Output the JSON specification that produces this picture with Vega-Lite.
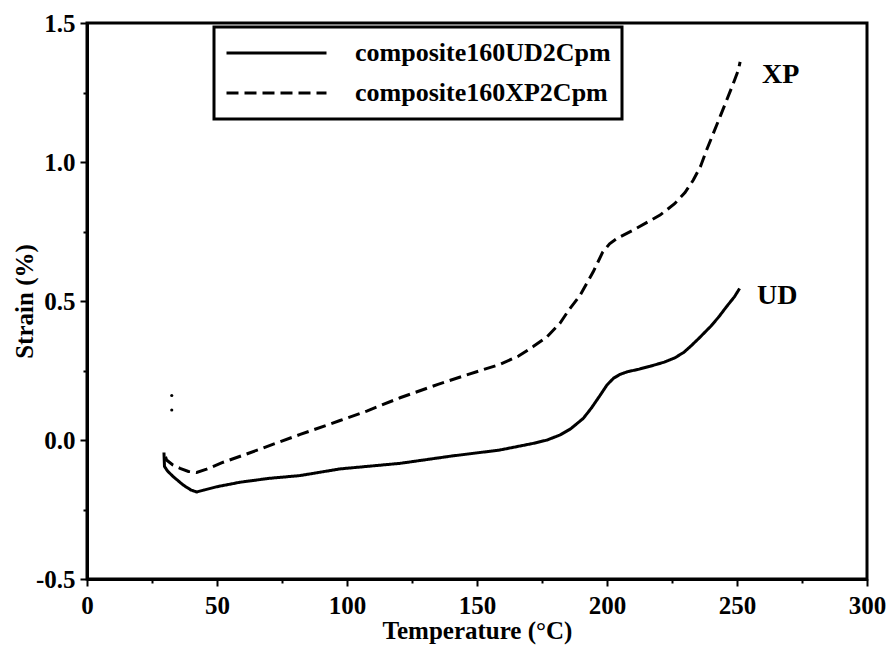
{
  "$schema": "https://vega.github.io/schema/vega-lite/v6.json",
  "width": 780,
  "height": 556,
  "autosize": "none",
  "padding": {"left": 87, "top": 23, "right": 27, "bottom": 75},
  "background": "white",
  "datasets": {
    "curves": [
      {"series": "composite160UD2Cpm", "temperature": 29.6, "strain": -0.045},
      {"series": "composite160UD2Cpm", "temperature": 29.8, "strain": -0.095},
      {"series": "composite160UD2Cpm", "temperature": 31, "strain": -0.112},
      {"series": "composite160UD2Cpm", "temperature": 33.2, "strain": -0.132},
      {"series": "composite160UD2Cpm", "temperature": 37, "strain": -0.162},
      {"series": "composite160UD2Cpm", "temperature": 40, "strain": -0.18},
      {"series": "composite160UD2Cpm", "temperature": 42.2, "strain": -0.187},
      {"series": "composite160UD2Cpm", "temperature": 45, "strain": -0.18},
      {"series": "composite160UD2Cpm", "temperature": 50, "strain": -0.168},
      {"series": "composite160UD2Cpm", "temperature": 58.8, "strain": -0.152},
      {"series": "composite160UD2Cpm", "temperature": 70, "strain": -0.138},
      {"series": "composite160UD2Cpm", "temperature": 81.9, "strain": -0.128},
      {"series": "composite160UD2Cpm", "temperature": 97.3, "strain": -0.104},
      {"series": "composite160UD2Cpm", "temperature": 120.4, "strain": -0.084},
      {"series": "composite160UD2Cpm", "temperature": 140, "strain": -0.058},
      {"series": "composite160UD2Cpm", "temperature": 158.8, "strain": -0.036},
      {"series": "composite160UD2Cpm", "temperature": 171.7, "strain": -0.012},
      {"series": "composite160UD2Cpm", "temperature": 177, "strain": 0.0},
      {"series": "composite160UD2Cpm", "temperature": 181.9, "strain": 0.018},
      {"series": "composite160UD2Cpm", "temperature": 186, "strain": 0.04},
      {"series": "composite160UD2Cpm", "temperature": 190.9, "strain": 0.078},
      {"series": "composite160UD2Cpm", "temperature": 194, "strain": 0.115},
      {"series": "composite160UD2Cpm", "temperature": 197.3, "strain": 0.16},
      {"series": "composite160UD2Cpm", "temperature": 200, "strain": 0.198},
      {"series": "composite160UD2Cpm", "temperature": 202.5, "strain": 0.222},
      {"series": "composite160UD2Cpm", "temperature": 205, "strain": 0.236},
      {"series": "composite160UD2Cpm", "temperature": 208, "strain": 0.246},
      {"series": "composite160UD2Cpm", "temperature": 212, "strain": 0.254},
      {"series": "composite160UD2Cpm", "temperature": 216.5, "strain": 0.265},
      {"series": "composite160UD2Cpm", "temperature": 222, "strain": 0.28},
      {"series": "composite160UD2Cpm", "temperature": 226, "strain": 0.295},
      {"series": "composite160UD2Cpm", "temperature": 229.5, "strain": 0.315},
      {"series": "composite160UD2Cpm", "temperature": 232.5, "strain": 0.34},
      {"series": "composite160UD2Cpm", "temperature": 235.8, "strain": 0.37},
      {"series": "composite160UD2Cpm", "temperature": 240, "strain": 0.41},
      {"series": "composite160UD2Cpm", "temperature": 243, "strain": 0.443},
      {"series": "composite160UD2Cpm", "temperature": 246, "strain": 0.48},
      {"series": "composite160UD2Cpm", "temperature": 249, "strain": 0.515},
      {"series": "composite160UD2Cpm", "temperature": 251, "strain": 0.545},
      {"series": "composite160XP2Cpm", "temperature": 30.2, "strain": -0.06},
      {"series": "composite160XP2Cpm", "temperature": 30.6, "strain": -0.072},
      {"series": "composite160XP2Cpm", "temperature": 33, "strain": -0.09},
      {"series": "composite160XP2Cpm", "temperature": 35.8, "strain": -0.102},
      {"series": "composite160XP2Cpm", "temperature": 39, "strain": -0.113},
      {"series": "composite160XP2Cpm", "temperature": 42.2, "strain": -0.117},
      {"series": "composite160XP2Cpm", "temperature": 46, "strain": -0.105},
      {"series": "composite160XP2Cpm", "temperature": 52.4, "strain": -0.08},
      {"series": "composite160XP2Cpm", "temperature": 60, "strain": -0.055},
      {"series": "composite160XP2Cpm", "temperature": 71.7, "strain": -0.015},
      {"series": "composite160XP2Cpm", "temperature": 82, "strain": 0.02},
      {"series": "composite160XP2Cpm", "temperature": 97.3, "strain": 0.07},
      {"series": "composite160XP2Cpm", "temperature": 107.6, "strain": 0.104},
      {"series": "composite160XP2Cpm", "temperature": 120.4, "strain": 0.152},
      {"series": "composite160XP2Cpm", "temperature": 135, "strain": 0.2},
      {"series": "composite160XP2Cpm", "temperature": 146, "strain": 0.234},
      {"series": "composite160XP2Cpm", "temperature": 158.8, "strain": 0.272},
      {"series": "composite160XP2Cpm", "temperature": 166, "strain": 0.302},
      {"series": "composite160XP2Cpm", "temperature": 171.6, "strain": 0.336},
      {"series": "composite160XP2Cpm", "temperature": 176.8, "strain": 0.37},
      {"series": "composite160XP2Cpm", "temperature": 181.9, "strain": 0.42},
      {"series": "composite160XP2Cpm", "temperature": 185.5, "strain": 0.47},
      {"series": "composite160XP2Cpm", "temperature": 189.6, "strain": 0.52},
      {"series": "composite160XP2Cpm", "temperature": 194.7, "strain": 0.605},
      {"series": "composite160XP2Cpm", "temperature": 198.3, "strain": 0.675},
      {"series": "composite160XP2Cpm", "temperature": 201, "strain": 0.706},
      {"series": "composite160XP2Cpm", "temperature": 204, "strain": 0.726},
      {"series": "composite160XP2Cpm", "temperature": 210.1, "strain": 0.755},
      {"series": "composite160XP2Cpm", "temperature": 220.4, "strain": 0.809},
      {"series": "composite160XP2Cpm", "temperature": 226, "strain": 0.85},
      {"series": "composite160XP2Cpm", "temperature": 230, "strain": 0.89},
      {"series": "composite160XP2Cpm", "temperature": 233.2, "strain": 0.935},
      {"series": "composite160XP2Cpm", "temperature": 236, "strain": 0.985},
      {"series": "composite160XP2Cpm", "temperature": 238.3, "strain": 1.043},
      {"series": "composite160XP2Cpm", "temperature": 243.5, "strain": 1.163},
      {"series": "composite160XP2Cpm", "temperature": 248.6, "strain": 1.283},
      {"series": "composite160XP2Cpm", "temperature": 250.5, "strain": 1.33},
      {"series": "composite160XP2Cpm", "temperature": 251.2, "strain": 1.36}
    ],
    "dots": [
      {"temperature": 32.6, "strain": 0.16},
      {"temperature": 32.6, "strain": 0.108}
    ],
    "labels": [
      {"temperature": 259.6, "strain": 1.313, "text": "XP"},
      {"temperature": 257.7, "strain": 0.518, "text": "UD"}
    ]
  },
  "layer": [
    {
      "data": {"name": "curves"},
      "mark": {"type": "line", "strokeWidth": 3, "color": "black"},
      "encoding": {
        "x": {
          "field": "temperature",
          "type": "quantitative",
          "scale": {"domain": [0, 300], "nice": false, "zero": false},
          "axis": {
            "title": "Temperature (°C)",
            "values": [0, 12.5, 25, 37.5, 50, 62.5, 75, 87.5, 100, 112.5, 125, 137.5, 150, 162.5, 175, 187.5, 200, 212.5, 225, 237.5, 250, 262.5, 275, 287.5, 300],
            "labelExpr": "datum.value % 50 === 0 ? datum.label : ''",
            "format": "d",
            "labelFlush": false,
            "labelOverlap": false,
            "tickSize": {"condition": {"test": "datum.value % 50 === 0", "value": 7}, "value": 4},
            "labelPadding": 7,
            "titlePadding": 0
          }
        },
        "y": {
          "field": "strain",
          "type": "quantitative",
          "scale": {"domain": [-0.5, 1.5], "nice": false, "zero": false},
          "axis": {
            "title": "Strain (%)",
            "values": [-0.5, -0.375, -0.25, -0.125, 0, 0.125, 0.25, 0.375, 0.5, 0.625, 0.75, 0.875, 1.0, 1.125, 1.25, 1.375, 1.5],
            "format": ".1f",
            "labelFlush": false,
            "labelOverlap": false,
            "labelExpr": "abs(datum.value*2 - round(datum.value*2)) < 0.000001 ? replace(datum.label, '−', '-') : ''",
            "tickSize": {"condition": {"test": "abs(datum.value*2 - round(datum.value*2)) < 0.000001", "value": 7}, "value": 4},
            "labelPadding": 5,
            "titlePadding": -2
          }
        },
        "strokeDash": {
          "field": "series",
          "type": "nominal",
          "scale": {"domain": ["composite160UD2Cpm", "composite160XP2Cpm"], "range": [[1, 0], [12, 6]]},
          "legend": {
            "title": null,
            "orient": "none",
            "legendX": 127,
            "legendY": 4,
            "symbolType": "stroke",
            "symbolSize": 10000,
            "symbolStrokeWidth": 3,
            "symbolStrokeColor": "black",
            "clipHeight": 30,
            "rowPadding": 10,
            "labelOffset": 27,
            "padding": 11,
            "strokeColor": "black",
            "labelFont": "Liberation Serif",
            "labelFontWeight": "bold",
            "labelFontSize": 26,
            "labelColor": "black",
            "labelLimit": 400
          }
        }
      }
    },
    {
      "data": {"name": "dots"},
      "mark": {"type": "point", "filled": true, "color": "black", "size": 10, "opacity": 1},
      "encoding": {
        "x": {"field": "temperature", "type": "quantitative"},
        "y": {"field": "strain", "type": "quantitative"}
      }
    },
    {
      "data": {"name": "labels"},
      "mark": {"type": "text", "font": "Liberation Serif", "fontWeight": "bold", "fontSize": 28, "align": "left", "baseline": "middle", "color": "black"},
      "encoding": {
        "x": {"field": "temperature", "type": "quantitative"},
        "y": {"field": "strain", "type": "quantitative"},
        "text": {"field": "text"}
      }
    }
  ],
  "config": {
    "view": {"stroke": "black", "strokeWidth": 3},
    "axis": {
      "grid": false,
      "domainColor": "black",
      "domainWidth": 3,
      "tickColor": "black",
      "tickWidth": 2,
      "labelFont": "Liberation Serif",
      "labelFontWeight": "bold",
      "labelFontSize": 25,
      "labelColor": "black",
      "titleFont": "Liberation Serif",
      "titleFontWeight": "bold",
      "titleFontSize": 25,
      "titleColor": "black"
    },
    "legend": {"strokeWidth": 3}
  }
}
